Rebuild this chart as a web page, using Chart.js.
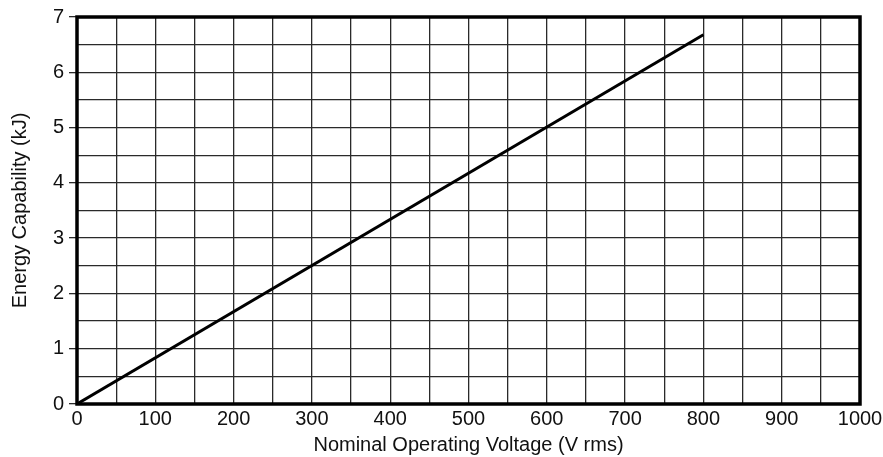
<!DOCTYPE html>
<html>
<head>
<meta charset="utf-8">
<script src="https://cdn.jsdelivr.net/npm/chart.js@4"></script>
<style>
  html, body { margin: 0; padding: 0; background: #fff; }
  #wrap { width: 883px; height: 457px; }
</style>
</head>
<body>
<div id="wrap"><canvas id="grafico" width="883" height="457"></canvas></div>
<script>
// Datos: recta de 0 V a 800 V
const voltaje = [0, 800];          // V rms
const energia = [0, 6.68];         // kJ

const ejeX = { min: 0, max: 1000, paso: 50, etiqueta: 100 };
const ejeY = { min: 0, max: 7, paso: 0.5, etiqueta: 1 };

const tituloX = "Nominal Operating Voltage (V rms)";
const tituloY = "Energy Capability (kJ)";

const fuente = "'Liberation Sans', Arial, sans-serif";

// marco grueso alrededor del área del gráfico
const marco = {
  id: "marco",
  afterDraw(chart) {
    const { ctx, chartArea: a } = chart;
    ctx.save();
    ctx.strokeStyle = "#000";
    ctx.lineWidth = 3.5;
    ctx.strokeRect(a.left, a.top, a.right - a.left, a.bottom - a.top);
    ctx.restore();
  }
};

const puntos = voltaje.map((v, i) => ({ x: v, y: energia[i] }));

new Chart(document.getElementById("grafico"), {
  type: "line",
  data: {
    datasets: [{
      data: puntos,
      borderColor: "#000",
      borderWidth: 3,
      pointRadius: 0,
      fill: false,
      tension: 0
    }]
  },
  options: {
    responsive: false,
    animation: false,
    layout: { padding: { left: 0, top: 17, right: 23, bottom: 0 } },
    plugins: { legend: { display: false }, tooltip: { enabled: false } },
    scales: {
      x: {
        type: "linear",
        min: ejeX.min,
        max: ejeX.max,
        afterFit: s => { s.height = 53; s.paddingRight = 0; s.paddingLeft = 0; },
        ticks: {
          stepSize: ejeX.paso,
          autoSkip: false,
          maxRotation: 0,
          padding: 3,
          color: "#111",
          font: { family: fuente, size: 20 },
          callback: v => (v % ejeX.etiqueta === 0 ? v : "")
        },
        grid: { color: "#2a2a2a", lineWidth: 1.3, tickLength: 0 },
        border: { display: false },
        title: {
          display: true,
          text: tituloX,
          color: "#111",
          font: { family: fuente, size: 20 },
          padding: { top: 0, bottom: 0 }
        }
      },
      y: {
        type: "linear",
        min: ejeY.min,
        max: ejeY.max,
        afterFit: s => { s.width = 77; },
        ticks: {
          stepSize: ejeY.paso,
          autoSkip: false,
          padding: 5,
          color: "#111",
          font: { family: fuente, size: 20 },
          callback: v => (v % ejeY.etiqueta === 0 ? v : "")
        },
        grid: {
          color: "#2a2a2a",
          lineWidth: 1.3,
          tickLength: 8,
          tickColor: c => (c.tick && c.tick.value % 1 === 0 ? "#2a2a2a" : "rgba(0,0,0,0)")
        },
        border: { display: false },
        title: {
          display: true,
          text: tituloY,
          color: "#111",
          font: { family: fuente, size: 20 },
          padding: { top: 8, bottom: 0 }
        }
      }
    }
  },
  plugins: [marco]
});
</script>
</body>
</html>
